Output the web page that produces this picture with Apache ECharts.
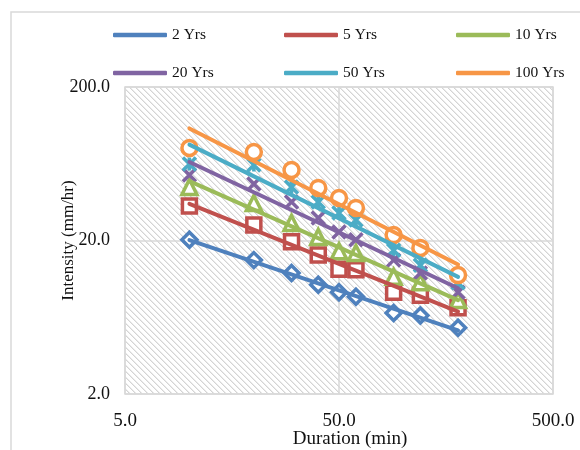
<!DOCTYPE html>
<html><head><meta charset="utf-8">
<script src="https://cdn.jsdelivr.net/npm/echarts@6/dist/echarts.min.js"></script>
<style>html,body{margin:0;padding:0;background:#fff}#c{width:580px;height:450px}</style>
</head><body><div id="c"></div>
<script>
// ---- data ----
const durations = [10, 20, 30, 40, 50, 60, 90, 120, 180];
const y2   = [20.2, 14.9, 12.3, 10.3, 9.2, 8.6, 6.75, 6.5, 5.4];
const y5   = [33.6, 25.2, 19.6, 16.1, 13.0, 12.9, 9.2, 8.8, 7.3];
const y10  = [44.6, 35.1, 26.0, 21.1, 17.0, 16.6, 11.6, 10.7, 8.2];
const y20  = [53.4, 46.7, 35.6, 28.0, 22.7, 20.2, 14.9, 12.3, 9.2];
const y50  = [63.0, 62.1, 44.6, 35.6, 30.2, 27.2, 17.3, 13.8, 10.6];
const y100 = [80.1, 75.4, 57.6, 44.0, 37.8, 32.6, 21.7, 17.9, 11.9];
const seriesNames = ['2 Yrs', '5 Yrs', '10 Yrs', '20 Yrs', '50 Yrs', '100 Yrs'];
const xTicks = [5, 50, 500];
const yTicks = [2, 20, 200];

// ---- styling ----
const allY = [y2, y5, y10, y20, y50, y100];
const colors = ['#4F81BD', '#C0504D', '#9BBB59', '#8064A2', '#4BACC6', '#F79646'];
const symbols = ['diamond', 'rect', 'triangle',
  'path://M0,0L10,10M10,0L0,10',
  'path://M0,0L10,10M10,0L0,10M5,0L5,10',
  'circle'];
const symSizes = [15, 14, 15, 13, 13, 15];
const FONT = 'Liberation Serif';

// power-law (Excel style) trendline from the data
function powerFit(xs, ys) {
  const n = xs.length;
  let sx = 0, sy = 0, sxx = 0, sxy = 0;
  for (let i = 0; i < n; i++) {
    const lx = Math.log(xs[i]), ly = Math.log(ys[i]);
    sx += lx; sy += ly; sxx += lx * lx; sxy += lx * ly;
  }
  const b = (n * sxy - sx * sy) / (n * sxx - sx * sx);
  const a = (sy - b * sx) / n;
  return x => Math.exp(a + b * Math.log(x));
}

// hatch pattern
const pc = document.createElement('canvas');
const T = 6;
pc.width = T; pc.height = T;
const g = pc.getContext('2d');
g.fillStyle = '#ffffff'; g.fillRect(0, 0, T, T);
for (let i = 0; i < T; i++) {
  g.fillStyle = '#d4d4d4'; g.fillRect(i, i, 1, 1);
  g.fillStyle = '#ebebeb'; g.fillRect((i + 1) % T, i, 1, 1);
}

const series = [];
allY.forEach((ys, i) => {
  series.push({
    name: seriesNames[i] + ' pts', type: 'scatter', z: 2,
    symbol: symbols[i], symbolSize: symSizes[i],
    itemStyle: { color: i === 3 || i === 4 ? colors[i] : '#ffffff', borderColor: colors[i], borderWidth: 3.5, opacity: 1 },
    data: durations.map((d, k) => [d, ys[k]])
  });
});
allY.forEach((ys, i) => {
  const f = powerFit(durations, ys);
  const x0 = durations[0], x1 = durations[durations.length - 1];
  series.push({
    name: seriesNames[i], type: 'line', z: 3, color: colors[i],
    showSymbol: false, symbol: 'none',
    lineStyle: { color: colors[i], width: 4, cap: 'round' },
    itemStyle: { color: colors[i] },
    data: [[x0, f(x0)], [x1, f(x1)]]
  });
});

const legendPos = [[113, 27], [284, 27], [456, 27], [113, 65], [284, 65], [456, 65]];
const legends = seriesNames.map((nm, i) => ({
  data: [nm], left: legendPos[i][0], top: legendPos[i][1], padding: 0,
  icon: 'roundRect', itemWidth: 54, itemHeight: 4.5,
  textStyle: { fontFamily: FONT, fontSize: 15.5, color: '#111' },
  selectedMode: false
}));

const chart = echarts.init(document.getElementById('c'), null, { renderer: 'canvas' });
chart.setOption({
  animation: false,
  backgroundColor: '#ffffff',
  graphic: [{ type: 'rect', shape: { x: 11, y: 12, width: 620, height: 500 }, style: { fill: 'none', stroke: '#d9d9d9', lineWidth: 1.5 }, silent: true, z: -10 }],
  legend: legends,
  grid: { left: 125, top: 87, right: 27, bottom: 56, show: true, outerBoundsMode: 'none', containLabel: false,
    backgroundColor: { image: pc, repeat: 'repeat' }, borderColor: '#d9d9d9', borderWidth: 1.5 },
  xAxis: {
    type: 'log', logBase: 10, min: 5, max: 500,
    name: 'Duration (min)', nameLocation: 'middle', nameGap: 36, nameMoveOverlap: false,
    nameTextStyle: { fontFamily: FONT, fontSize: 19, color: '#111', padding: [0, 0, 0, 22] },
    axisLine: { show: false }, axisTick: { show: false, customValues: xTicks },
    axisLabel: { customValues: xTicks, fontFamily: FONT, fontSize: 19, color: '#111', margin: 18,
      formatter: v => Number(v).toFixed(1) },
    splitLine: { show: true, lineStyle: { color: '#d9d9d9', width: 1.5 } },
    minorSplitLine: { show: false }
  },
  yAxis: {
    type: 'log', logBase: 10, min: 2, max: 200,
    name: 'Intensity (mm/hr)', nameLocation: 'middle', nameGap: 48, nameMoveOverlap: false,
    nameTextStyle: { fontFamily: FONT, fontSize: 17, color: '#111' },
    axisLine: { show: false }, axisTick: { show: false, customValues: yTicks },
    axisLabel: { customValues: yTicks, fontFamily: FONT, fontSize: 18, color: '#111', margin: 15,
      formatter: v => Number(v).toFixed(1) },
    splitLine: { show: true, lineStyle: { color: '#d9d9d9', width: 1.5 } }
  },
  series: series
});
</script></body></html>
